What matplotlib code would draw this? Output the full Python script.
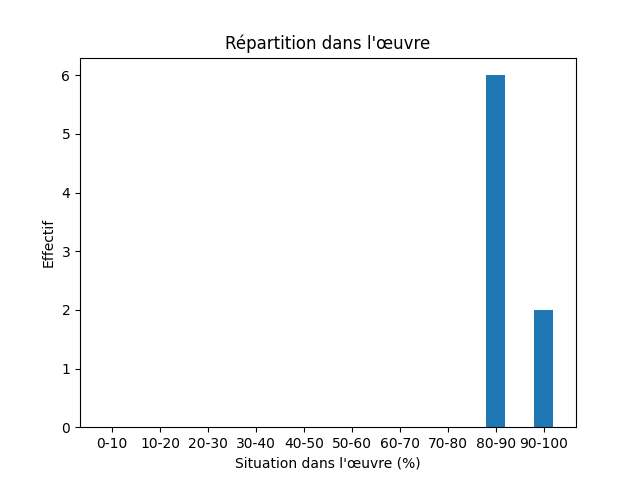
import matplotlib
matplotlib.use("Agg")
import matplotlib.pyplot as plt

categories = ["0-10", "10-20", "20-30", "30-40", "40-50", "50-60", "60-70", "70-80", "80-90", "90-100"]
counts = [0, 0, 0, 0, 0, 0, 0, 0, 6, 2]

fig, ax = plt.subplots(figsize=(6.4, 4.8), dpi=100)
ax.bar(categories, counts, width=0.4, color="#1f77b4")
ax.set_title("Répartition dans l'œuvre")
ax.set_xlabel("Situation dans l'œuvre (%)")
ax.set_ylabel("Effectif")
fig.savefig("out.png")
